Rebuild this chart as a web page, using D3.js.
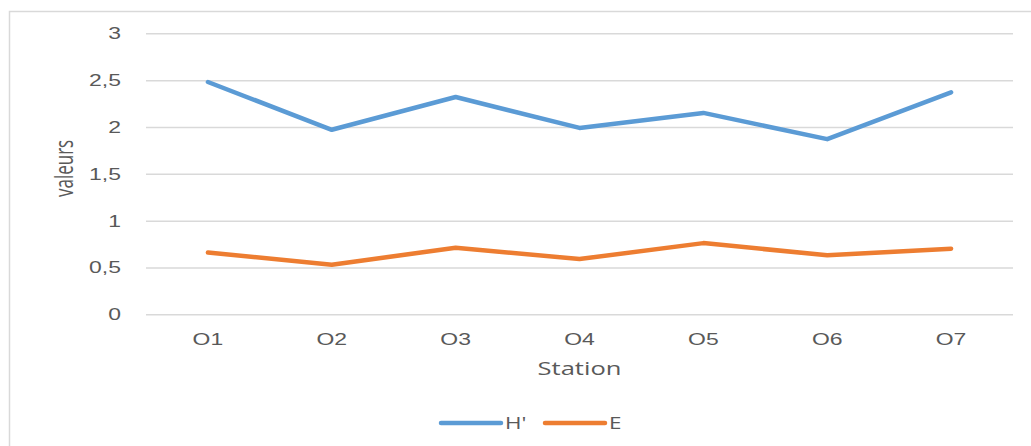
<!DOCTYPE html>
<html>
<head>
<meta charset="utf-8">
<script src="https://cdn.jsdelivr.net/npm/d3@7"></script>
<style>
  html, body { margin: 0; padding: 0; background: #fff; }
  svg { display: block; font-family: "Open Sans", "Noto Sans", sans-serif; }
</style>
</head>
<body>
<svg id="chart" width="1031" height="446"></svg>
<script>
// Stations sampled and the two indices measured at each
const stations = ["O1", "O2", "O3", "O4", "O5", "O6", "O7"];
const hValues = [2.48, 1.97, 2.32, 1.99, 2.15, 1.87, 2.37];
const eValues = [0.66, 0.53, 0.71, 0.59, 0.76, 0.63, 0.70];
const yTicks = [0, 0.5, 1, 1.5, 2, 2.5, 3];
const seriesNames = ["H'", "E"];
const seriesColors = ["#5b9bd5", "#ed7d31"];

const svg = d3.select("#chart");
const W = 1031, H = 446;
const TEXT = "#595959";
const SX = 1.35; // horizontal widening of the label glyphs

// chart frame
svg.append("rect")
  .attr("x", 9.5).attr("y", 11.5)
  .attr("width", W + 10).attr("height", H + 10)
  .attr("fill", "#fff").attr("stroke", "#d9d9d9").attr("stroke-width", 1.5);

const plot = { left: 146, right: 1013, top: 33.3, bottom: 314.3 };

const x = d3.scaleBand().domain(stations).range([plot.left, plot.right]);
const y = d3.scaleLinear().domain([0, 3]).range([plot.bottom, plot.top]);

// horizontal gridlines + y labels
const yAxis = d3.axisLeft(y).tickValues(yTicks)
  .tickSize(-(plot.right - plot.left))
  .tickFormat(d => String(d).replace(".", ","));
const gy = svg.append("g").attr("transform", `translate(${plot.left},0)`).call(yAxis);
gy.select(".domain").remove();
gy.selectAll(".tick line").attr("stroke", "#d9d9d9").attr("stroke-width", 1.5);
gy.selectAll(".tick text")
  .attr("x", -25 / SX)
  .attr("transform", `scale(${SX},1)`)
  .attr("fill", TEXT).attr("font-size", 17);

// category labels
const xAxis = d3.axisBottom(x).tickSize(0);
const gx = svg.append("g").attr("transform", `translate(0,${plot.bottom})`).call(xAxis);
gx.select(".domain").remove();
gx.selectAll(".tick text")
  .attr("dy", null).attr("y", 30.7)
  .attr("transform", `scale(${SX},1)`)
  .attr("fill", TEXT).attr("font-size", 17);

// axis titles
svg.append("text")
  .attr("transform", `translate(${(plot.left + plot.right) / 2},375) scale(1.42,1)`)
  .attr("text-anchor", "middle").attr("fill", TEXT).attr("font-size", 18)
  .text("Station");
svg.append("text")
  .attr("transform", "translate(73,168.4) scale(1.45,1) rotate(-90)")
  .attr("text-anchor", "middle").attr("fill", TEXT).attr("font-size", 17)
  .text("valeurs");

// series lines
const line = d3.line()
  .x((d, i) => x(stations[i]) + x.bandwidth() / 2)
  .y(d => y(d));
[hValues, eValues].forEach((vals, k) => {
  svg.append("path")
    .datum(vals)
    .attr("d", line)
    .attr("fill", "none")
    .attr("stroke", seriesColors[k])
    .attr("stroke-width", 4.5)
    .attr("stroke-linejoin", "round")
    .attr("stroke-linecap", "round");
});

// legend
const legendX = [441, 545];
seriesNames.forEach((name, k) => {
  const g = svg.append("g").attr("transform", `translate(${legendX[k]},423)`);
  g.append("line").attr("x1", 0).attr("x2", 60).attr("y1", 0).attr("y2", 0)
    .attr("stroke", seriesColors[k]).attr("stroke-width", 4.5).attr("stroke-linecap", "round");
  g.append("text")
    .attr("transform", "translate(64,6) scale(1.4,1)")
    .attr("fill", TEXT).attr("font-size", 16).text(name);
});
</script>
</body>
</html>
